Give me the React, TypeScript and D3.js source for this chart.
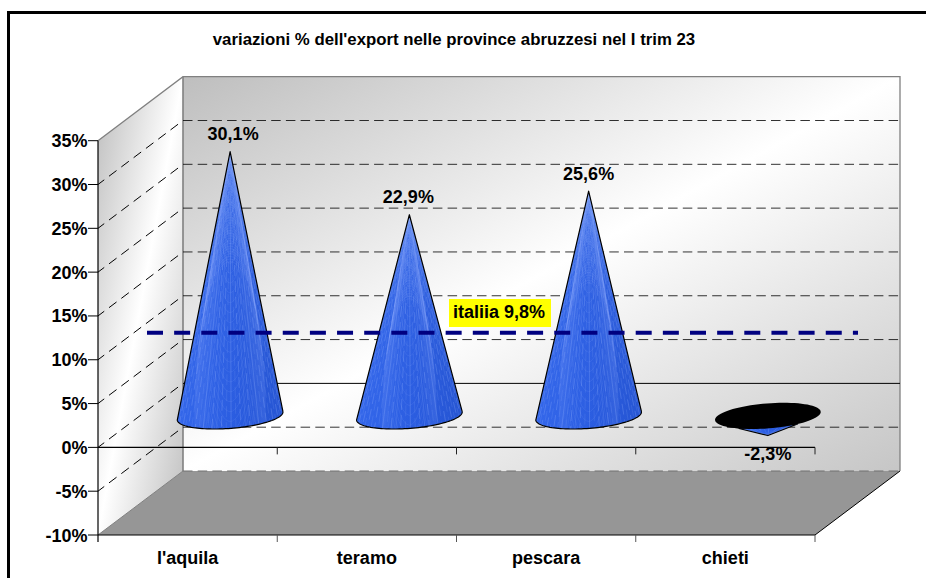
import React from "react";
import * as d3 from "d3";

const title = "variazioni % dell'export nelle province abruzzesi nel I trim 23";
const categories = ["l'aquila", "teramo", "pescara", "chieti"];
const values = [30.1, 22.9, 25.6, -2.3];
const valueLabels = ["30,1%", "22,9%", "25,6%", "-2,3%"];
const yTicks = [-10, -5, 0, 5, 10, 15, 20, 25, 30, 35];
const italyLabel = "italiia 9,8%";

const W = 926, H = 578;
const DX = 85, DY = -64;
const y = d3.scaleLinear().domain([-10, 35]).range([535, 140.7]);
const x = d3.scaleBand().domain(categories).range([98, 815]);
const fnt = "'Liberation Sans', Arial, sans-serif";

function Cone({ cat, v, id }: { cat: string; v: number; id: string }) {
  const cx = x(cat)! + x.bandwidth() / 2 + DX / 2;
  const by = y(0) + DY / 2;
  const ay = y(v) + DY / 2;
  const rx = 53, ry = 12.5;
  const t = (-4.5 * Math.PI) / 180;
  const pt = (a: number): [number, number] => {
    const px = rx * Math.cos(a), py = ry * Math.sin(a);
    return [cx + px * Math.cos(t) - py * Math.sin(t), by + 0.5 + px * Math.sin(t) + py * Math.cos(t)];
  };
  const up = v >= 0;
  const line = d3.line();
  const arc = d3.range(0, Math.PI + 0.001, Math.PI / 60).map(pt);
  const body = up
    ? `M${cx},${ay}L${pt(0).join(",")}${line(arc)!.replace(/^M/, "L")}Z`
    : `M${cx},${ay}L${pt(0.316 * Math.PI).join(",")}L${pt(0.69 * Math.PI).join(",")}Z`;
  const N = 34;
  const stripes = d3.range(1, N).map((i) => ({ i, p: pt((Math.PI * i) / N) }));
  const ell = d3.range(0, Math.PI * 2 + 0.01, Math.PI / 40).map(pt);
  const h = by - ay;
  const arches = up ? d3.range(6, h * 0.42, 2.6) : [];
  const clip = `clip-${id}`;
  return (
    <g>
      <clipPath id={clip}><path d={body} /></clipPath>
      <path d={body} fill="url(#coneGrad)" />
      <g clipPath={`url(#${clip})`}>
        {up && <rect x={cx - 60} y={ay} width={120} height={h + 20} fill="url(#coneTop)" />}
        {arches.map((b, k) => (
          <ellipse key={k} cx={cx} cy={ay + b * 2.4} rx={b * 0.32} ry={b * 1.4}
            fill="none" stroke="#8fabff" strokeOpacity={0.14} strokeWidth={1} />
        ))}
        {stripes.map(({ i, p }) => {
          const fromCentre = Math.abs(i - N / 2);
          return (
            <line key={i} x1={cx} y1={ay} x2={p[0]} y2={p[1]}
              stroke="#a0baff" strokeOpacity={i % 2 ? 0.36 : 0.2} strokeWidth={0.7}
              strokeDasharray={fromCentre % 3 === 0 && fromCentre < 7 ? undefined : "11 5"}
              strokeDashoffset={(i * 6.3) % 16} />
          );
        })}
      </g>
      <path d={body} fill="none" stroke="#000" strokeWidth={1.2} strokeLinejoin="round" />
      {!up && <path d={line(ell)! + "Z"} fill="#000" />}
    </g>
  );
}

export default function App() {
  const y0 = y(0);
  const yTop = y(35), yBot = y(-10);
  const xL = 98, xR = 815;
  const labelNudge = [3, -1, 0, 0];
  return (
    <svg width={W} height={H} viewBox={`0 0 ${W} ${H}`}
      style={{ position: "absolute", left: 0, top: 0, display: "block" }} fontFamily={fnt}>
      <defs>
        <linearGradient id="backGrad" x1="0" y1="0" x2="1" y2="1">
          <stop offset="0" stopColor="#bebebe" />
          <stop offset="0.5" stopColor="#ffffff" />
          <stop offset="1" stopColor="#c6c6c6" />
        </linearGradient>
        <linearGradient id="sideGrad" x1="0" y1="0" x2="1" y2="1">
          <stop offset="0" stopColor="#bcbcbc" />
          <stop offset="0.5" stopColor="#ffffff" />
          <stop offset="1" stopColor="#bebebe" />
        </linearGradient>
        <linearGradient id="coneGrad" x1="0" y1="0" x2="1" y2="0">
          <stop offset="0" stopColor="#3366ea" />
          <stop offset="0.3" stopColor="#2f62e6" />
          <stop offset="0.55" stopColor="#2a5ce0" />
          <stop offset="1" stopColor="#2554d2" />
        </linearGradient>
        <linearGradient id="coneTop" x1="0" y1="0" x2="0" y2="1">
          <stop offset="0" stopColor="#6f95f5" stopOpacity={0.4} />
          <stop offset="0.4" stopColor="#6f95f5" stopOpacity={0.08} />
          <stop offset="1" stopColor="#6f95f5" stopOpacity={0} />
        </linearGradient>
      </defs>

      <path d={`M8.5,${H}V12.5H${W}`} fill="none" stroke="#000" strokeWidth={3} />

      <text x={454} y={44.5} textAnchor="middle" fontSize={16.8} fontWeight="bold">{title}</text>

      <polygon points={`${xL + DX},${yTop + DY} ${xR + DX},${yTop + DY} ${xR + DX},${yBot + DY} ${xL + DX},${yBot + DY}`} fill="url(#backGrad)" />
      <polygon points={`${xL},${yTop} ${xL + DX},${yTop + DY} ${xL + DX},${yBot + DY} ${xL},${yBot}`} fill="url(#sideGrad)" />
      <polygon points={`${xL},${yBot} ${xL + DX},${yBot + DY} ${xR + DX},${yBot + DY} ${xR},${yBot}`} fill="#969696" />

      <path d={`M${xL},${yTop}L${xL + DX},${yTop + DY}H${xR + DX}V${yBot + DY}`} fill="none" stroke="#808080" strokeWidth={1.3} />
      <path d={`M${xL + DX},${yTop + DY}V${yBot + DY}`} fill="none" stroke="#808080" strokeWidth={1.6} />
      <path d={`M${xL + DX},${yBot + DY}H${xR + DX}`} stroke="#707070" strokeWidth={1.2} strokeDasharray="9.5 5.2" fill="none" />
      <path d={`M${xR},${yBot}L${xR + DX},${yBot + DY}`} stroke="#000" strokeWidth={1} fill="none" />
      <path d={`M${xL},${yBot}L${xL + DX},${yBot + DY}`} stroke="#808080" strokeWidth={1} fill="none" />

      {yTicks.filter((t) => t > -10 && t < 35).map((t) => (
        <g key={t}>
          {t !== 0 ? (
            <line x1={xL + DX} x2={xR + DX} y1={y(t) + DY} y2={y(t) + DY}
              stroke="#000" strokeOpacity={0.8} strokeDasharray="9.5 5.2" strokeWidth={1} />
          ) : (
            <line x1={xL + DX} x2={xR + DX} y1={y(t) + DY} y2={y(t) + DY} stroke="#000" strokeWidth={1} />
          )}
          <line x1={xL} x2={xL + DX - 4} y1={y(t)} y2={y(t) + (DY * (DX - 4)) / DX}
            stroke="#000" strokeWidth={1} strokeDasharray="9.4 6" strokeDashoffset={1.6} />
        </g>
      ))}

      <line x1={xL} x2={xR} y1={y0} y2={y0} stroke="#000" strokeWidth={1.2} />
      <line x1={xL} x2={xL} y1={yTop} y2={yBot + 7} stroke="#000" strokeWidth={1.2} />
      <line x1={xL} x2={xR} y1={yBot} y2={yBot} stroke="#000" strokeWidth={1.2} />
      {categories.map((c) => (
        <line key={c} x1={x(c)! + x.bandwidth()} x2={x(c)! + x.bandwidth()} y1={yBot} y2={yBot + 7} stroke="#555" strokeWidth={1} />
      ))}
      {categories.map((c) => (
        <line key={c} x1={x(c)! + x.bandwidth()} x2={x(c)! + x.bandwidth()} y1={y0} y2={y0 + 7} stroke="#222" strokeWidth={1} />
      ))}
      {yTicks.map((t) => (
        <g key={t}>
          <line x1={xL - 10} x2={xL} y1={y(t)} y2={y(t)} stroke="#000" strokeWidth={1} />
          <text x={87.5} y={y(t) + 6.5} textAnchor="end" fontSize={18} fontWeight="bold">{t}%</text>
        </g>
      ))}
      {categories.map((c) => (
        <text key={c} x={x(c)! + x.bandwidth() / 2} y={564} textAnchor="middle" fontSize={18} fontWeight="bold">{c}</text>
      ))}

      {categories.map((c, i) => <Cone key={c} cat={c} v={values[i]} id={`c${i}`} />)}

      {categories.map((c, i) => (
        <text key={c} x={x(c)! + x.bandwidth() / 2 + DX / 2 + labelNudge[i]}
          y={values[i] >= 0 ? y(values[i]) + DY / 2 - 11.5 : 460}
          textAnchor="middle" fontSize={18} fontWeight="bold">{valueLabels[i]}</text>
      ))}

      <line x1={147} x2={858} y1={332.7} y2={332.7} stroke="#000080" strokeWidth={4} strokeDasharray="16 11.15" />
      <rect x={449} y={299} width={102} height={28} fill="#ffff00" />
      <text x={499} y={317.7} textAnchor="middle" fontSize={18} fontWeight="bold">{italyLabel}</text>
    </svg>
  );
}
